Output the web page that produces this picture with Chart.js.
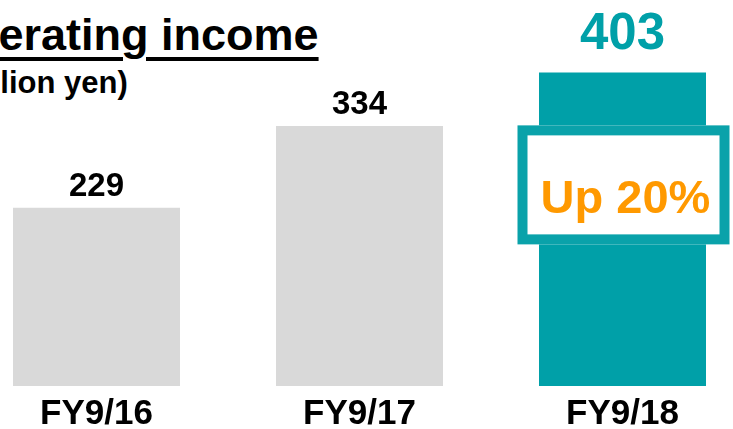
<!DOCTYPE html>
<html lang="en">
<head>
  <meta charset="UTF-8">
  <title>Operating income</title>
  <script src="https://cdn.jsdelivr.net/npm/chart.js"></script>
  <style>
    html, body {
      margin: 0;
      padding: 0;
      background: #fff;
      width: 733px;
      height: 429px;
      overflow: hidden;
      position: relative;
      font-family: "Liberation Sans", Arial, sans-serif;
    }

    .title {
      position: absolute;
      left: -64px;
      top: 12px;
      font-size: 45px;
      font-weight: bold;
      line-height: 1;
      white-space: nowrap;
      color: #000;
      text-decoration: underline;
      text-decoration-thickness: 3.5px;
      text-underline-offset: 7px;
    }

    .unit {
      position: absolute;
      left: -53px;
      top: 67px;
      font-size: 31px;
      font-weight: bold;
      line-height: 1;
      white-space: nowrap;
      color: #000;
    }

    #chart {
      position: absolute;
      left: -35px;
      top: 0;
    }
  </style>
</head>
<body>

<div class="title">Operating income</div>
<div class="unit">(Million yen)</div>
<canvas id="chart" width="789" height="429"></canvas>

<script>
  // data
  const categories = ['FY9/16', 'FY9/17', 'FY9/18'];
  const operatingIncome = [229, 334, 403];
  const growthText = 'Up 20%';

  // styles
  const barColors = ['#d9d9d9', '#d9d9d9', '#00a0a8'];
  const valueColors = ['#000', '#000', '#00a0a8'];
  const valueFontSizes = [33, 33, 51];
  const valueGaps = [12, 12, 23];

  // value labels above bars + the growth box on the last bar
  const barLabels = {
    id: 'barLabels',
    afterDatasetsDraw(chart) {
      const ctx = chart.ctx;
      const bars = chart.getDatasetMeta(0).data;
      ctx.save();

      const last = bars[bars.length - 1];
      const boxTop = last.y + 53;
      const cx = last.x + 1;
      ctx.fillStyle = '#fff';
      ctx.fillRect(cx - 106, boxTop, 212, 119);
      ctx.strokeStyle = '#0aa2aa';
      ctx.lineWidth = 10;
      ctx.strokeRect(cx - 101, boxTop + 5, 202, 109);

      ctx.textAlign = 'center';
      ctx.textBaseline = 'alphabetic';
      ctx.fillStyle = '#ff9900';
      ctx.font = 'bold 47px "Liberation Sans", Arial, sans-serif';
      ctx.fillText(growthText, cx + 2, boxTop + 88);

      bars.forEach((bar, i) => {
        ctx.fillStyle = valueColors[i];
        ctx.font = `bold ${valueFontSizes[i]}px "Liberation Sans", Arial, sans-serif`;
        ctx.fillText(operatingIncome[i], bar.x, bar.y - valueGaps[i]);
      });
      ctx.restore();
    }
  };

  const chart = new Chart(document.getElementById('chart'), {
    type: 'bar',
    data: {
      labels: categories,
      datasets: [{
        data: operatingIncome,
        backgroundColor: barColors,
        borderWidth: 0,
        categoryPercentage: 1,
        barPercentage: 0.635
      }]
    },
    options: {
      responsive: false,
      animation: false,
      layout: { padding: 0 },
      plugins: {
        legend: { display: false },
        tooltip: { enabled: false }
      },
      scales: {
        x: {
          grid: { display: false, drawTicks: false, tickLength: 0 },
          border: { display: false },
          afterFit(scale) {
            scale.height = 43;
          },
          ticks: {
            color: '#000',
            padding: 13,
            font: { family: '"Liberation Sans", Arial, sans-serif', size: 35, weight: 'bold', lineHeight: 0.88 }
          }
        },
        y: {
          display: false,
          min: 0,
          max: 496
        }
      }
    },
    plugins: [barLabels]
  });
</script>

</body>
</html>
